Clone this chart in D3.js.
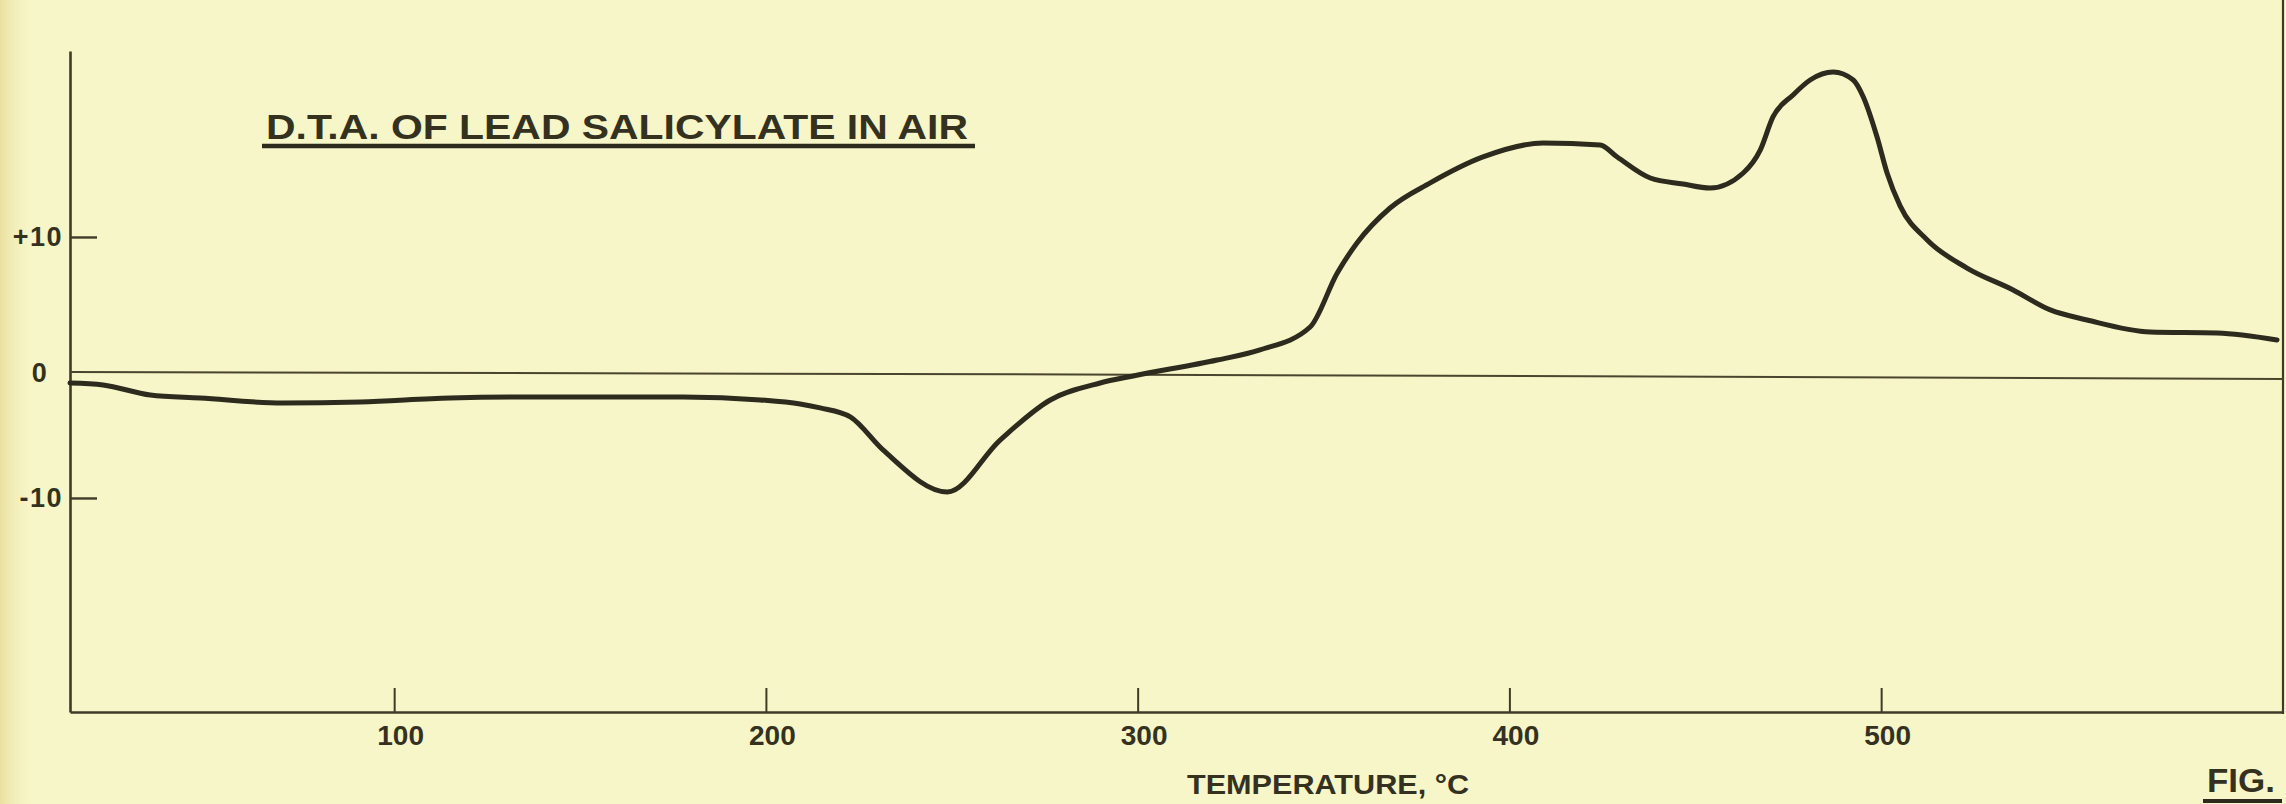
<!DOCTYPE html>
<html>
<head>
<meta charset="utf-8">
<script src="https://cdn.jsdelivr.net/npm/d3@7"></script>
<style>
body{margin:0;background:#f7f6c8;overflow:hidden;}
text{font-family:"Liberation Sans",Arial,sans-serif;font-weight:bold;fill:#35311f;}
</style>
</head>
<body>
<div id="viz-container"></div>
<script>
// D.T.A. trace: temperature (deg C) and deflection
let temps = [12.8, 21.7, 34.4, 47.8, 70.1, 90.9, 115.1, 137.4, 164.3, 177.7, 198.5, 209.2, 214.6, 222.7, 231.5, 248.8, 263.0, 276.5, 289.9, 298.8, 321.4, 332.9, 346.4, 353.7, 359.0, 367.9, 378.7, 392.9, 409.1, 424.4, 429.0, 437.9, 446.7, 454.0, 462.9, 467.5, 470.9, 476.3, 480.9, 487.1, 492.5, 495.2, 498.9, 501.6, 505.1, 512.4, 523.1, 535.5, 545.5, 555.4, 572.4, 590.4, 606.5];
let deltas = [-1.19, -1.34, -2.11, -2.34, -2.72, -2.64, -2.34, -2.26, -2.26, -2.26, -2.49, -2.80, -3.10, -3.79, -6.32, -9.54, -5.56, -2.49, -1.19, -0.65, 0.57, 1.34, 3.10, 7.24, 9.54, 12.22, 14.14, 16.13, 17.20, 17.05, 16.13, 14.52, 14.06, 13.75, 14.90, 16.67, 19.20, 20.88, 22.03, 22.64, 22.03, 20.73, 17.66, 14.90, 12.38, 9.77, 7.62, 5.94, 4.41, 3.64, 2.72, 2.64, 2.11];

// the hand-ruled zero line drifts a little
let baseTemps = [12.8, 300, 608.1];
let baseDeltas = [-0.34, -0.55, -0.88];

let xTicks = [100, 200, 300, 400, 500];
let yTicks = [-10, 0, 10];
let yTickLabels = ["-10", "0", "+10"];

let title = "D.T.A. OF LEAD SALICYLATE IN AIR";
let xLabel = "TEMPERATURE, °C";
let figLabel = "FIG.";

let w = 2286, h = 804;
let ink = "#2d2a1e";

let viz = d3.select("#viz-container")
    .append("svg")
    .attr("width", w)
    .attr("height", h);

// paper
let defs = viz.append("defs");
let grad = defs.append("linearGradient").attr("id", "edge");
grad.append("stop").attr("offset", "0%").attr("stop-color", "#eadf9f");
grad.append("stop").attr("offset", "100%").attr("stop-color", "#f7f6c8").attr("stop-opacity", 0);
viz.append("rect").attr("width", w).attr("height", h).attr("fill", "#f7f6c8");
viz.append("rect").attr("width", 36).attr("height", h).attr("fill", "url(#edge)");

let xScale = d3.scaleLinear().domain([12.8, 608.1]).range([70, 2283]);
let yScale = d3.scaleLinear().domain([-26.4, 24.25]).range([712, 51]);

// x axis
let xAxis = d3.axisBottom(xScale)
    .tickValues(xTicks)
    .tickSizeInner(-24)
    .tickSizeOuter(0)
    .tickPadding(13)
    .tickFormat(d3.format("d"));
let xAxisGroup = viz.append("g")
    .attr("class", "xAxis")
    .attr("transform", "translate(0," + yScale.range()[0] + ")")
    .call(xAxis);
xAxisGroup.attr("font-family", null).attr("font-size", null);
xAxisGroup.select(".domain").attr("stroke", "#3f3b28").attr("stroke-width", 2.6);
xAxisGroup.selectAll(".tick line").attr("stroke", "#3f3b28").attr("stroke-width", 2);
xAxisGroup.selectAll(".tick text")
    .attr("font-size", 28)
    .attr("fill", "#35311f")
    .attr("dx", 6);

// y axis
let yAxis = d3.axisLeft(yScale)
    .tickValues(yTicks)
    .tickSizeInner(-27)
    .tickSizeOuter(0)
    .tickPadding(7)
    .tickFormat((d, i) => yTickLabels[i]);
let yAxisGroup = viz.append("g")
    .attr("class", "yAxis")
    .attr("transform", "translate(" + xScale.range()[0] + ",0)")
    .call(yAxis);
yAxisGroup.attr("font-family", null).attr("font-size", null);
yAxisGroup.select(".domain").attr("stroke", "#3f3b28").attr("stroke-width", 2.6);
yAxisGroup.selectAll(".tick line").attr("stroke", "#3f3b28").attr("stroke-width", 2.4)
    .attr("opacity", d => d === 0 ? 0 : 1);
yAxisGroup.selectAll(".tick text")
    .attr("font-size", 27)
    .attr("fill", "#35311f")
    .attr("letter-spacing", 1.5);
yAxisGroup.selectAll(".tick").filter(d => d === 0).select("text")
    .attr("text-anchor", "middle")
    .attr("x", -30)
    .attr("y", 5);

// right edge of the frame
viz.append("line")
    .attr("x1", xScale.range()[1]).attr("x2", xScale.range()[1])
    .attr("y1", 0).attr("y2", yScale.range()[0] + 2)
    .attr("stroke", "#3f3b28")
    .attr("stroke-width", 2.2);

// zero line
let baseData = baseTemps.map((t, i) => ({t: t, v: baseDeltas[i]}));
viz.append("path")
    .datum(baseData)
    .attr("fill", "none")
    .attr("stroke", "#4a452e")
    .attr("stroke-width", 2)
    .attr("d", d3.line().x(d => xScale(d.t)).y(d => yScale(d.v)));

// the trace
let curveData = temps.map((t, i) => ({t: t, v: deltas[i]}));
let lineGenerator = d3.line()
    .x(d => xScale(d.t))
    .y(d => yScale(d.v))
    .curve(d3.curveMonotoneX);
viz.append("path")
    .datum(curveData)
    .attr("fill", "none")
    .attr("stroke", ink)
    .attr("stroke-width", 5)
    .attr("stroke-linejoin", "round")
    .attr("stroke-linecap", "round")
    .attr("d", lineGenerator);

// title with underline
viz.append("text")
    .attr("x", 266).attr("y", 139)
    .attr("font-size", 35)
    .attr("textLength", 702)
    .attr("lengthAdjust", "spacingAndGlyphs")
    .text(title);
viz.append("line")
    .attr("x1", 262).attr("x2", 975)
    .attr("y1", 146).attr("y2", 146)
    .attr("stroke", ink).attr("stroke-width", 4.5);

// axis title
viz.append("text")
    .attr("x", 1187).attr("y", 794)
    .attr("font-size", 28)
    .attr("textLength", 282)
    .attr("lengthAdjust", "spacingAndGlyphs")
    .text(xLabel);

// figure mark
viz.append("text")
    .attr("x", 2207).attr("y", 792)
    .attr("font-size", 33)
    .attr("textLength", 68)
    .attr("lengthAdjust", "spacingAndGlyphs")
    .text(figLabel);
viz.append("line")
    .attr("x1", 2203).attr("x2", 2282)
    .attr("y1", 801).attr("y2", 801)
    .attr("stroke", ink).attr("stroke-width", 4);
</script>
</body>
</html>
